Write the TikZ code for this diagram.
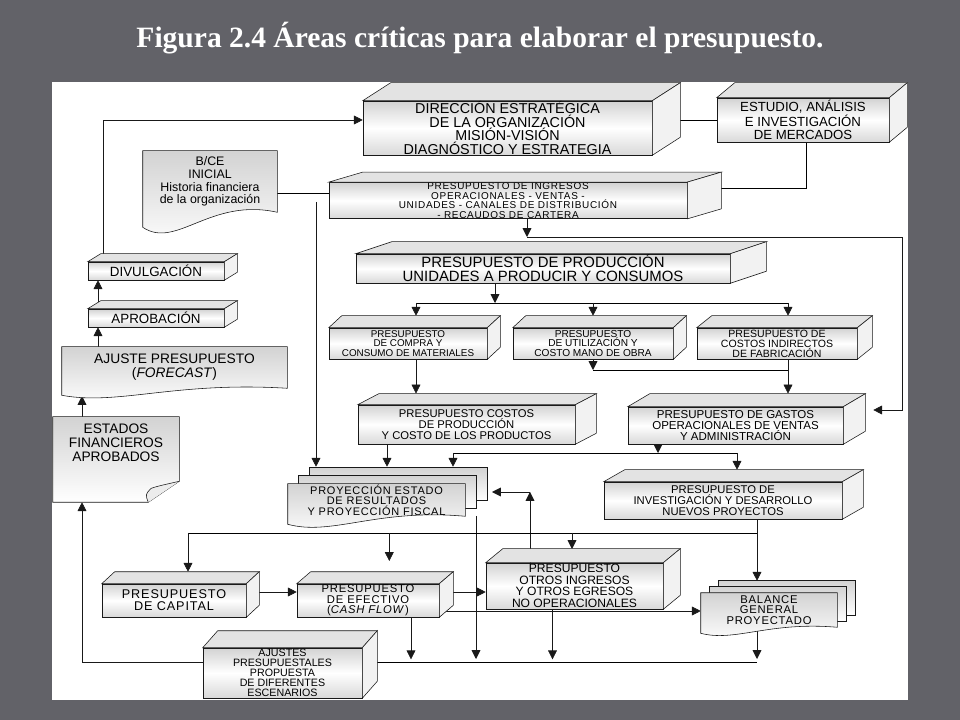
\documentclass[tikz,border=0pt]{standalone}
\usepackage{fontspec}
\setmainfont{Liberation Sans}
\newfontfamily\titlefont{Liberation Serif}
\newfontfamily\widefont[LetterSpace=7]{Liberation Sans}
\usetikzlibrary{arrows.meta}
\usetikzlibrary{calc}
\usetikzlibrary{positioning}
\pgfdeclarelayer{back}
\pgfdeclarelayer{conn}
\pgfdeclarelayer{docs}
\pgfsetlayers{back,conn,docs,main}
\definecolor{bgdark}{RGB}{98,98,104}
\tikzset{box/.style={draw=gray!20!black,inner sep=0pt,align=center,
    top color=gray!35,bottom color=gray!30,middle color=white}}
\tikzset{doc/.style={inner sep=0pt,align=center}}
\tikzset{sz/.style 2 args={minimum width=#1*0.025cm,minimum height=#2*0.025cm}}
\tikzset{fnt/.style 2 args={font=\fontsize{#1}{#2}\selectfont}}
\tikzset{docfill/.style={draw=gray!20!black,top color=gray!35,bottom color=white}}
\tikzset{arrow/.style={-{Triangle[length=2.2mm,width=2.2mm]},draw=gray!20!black}}
\newcommand{\cubefaces}[3]{
    \draw[draw=gray!20!black,fill=gray!22] (#1.north west) -- ++(#2,-#3)
        -- ($(#1.north east)+(#2,-#3)$) -- (#1.north east) -- cycle;
    \draw[draw=gray!20!black,fill=gray!10] (#1.north east) -- ++(#2,-#3)
        -- ($(#1.south east)+(#2,-#3)$) -- (#1.south east) -- cycle;
}
\newcommand{\docshape}[2]{
    \draw[docfill] (#1.north west) -- (#1.north east) -- (#1.south east)
        .. controls ($(#1.south)+(0,-#2)$) and ($(#1.south)!0.5!(#1.south west)+(0,2.5*#2)$)
        .. ($(#1.south west)+(0,#2)$) -- cycle;
}
\newcommand{\sheets}[3]{
    \draw[docfill] ($(#1.north west)+(2*#2,-2*#3)$) rectangle ($(#1.south east)+(2*#2,-2*#3)$);
    \draw[docfill] ($(#1.north west)+(#2,-#3)$) rectangle ($(#1.south east)+(#2,-#3)$);
}
\begin{document}
\begin{tikzpicture}[x=0.025cm,y=-0.025cm]
        \useasboundingbox (0,0) rectangle (960,720);
        \begin{pgfonlayer}{back}
            \fill[bgdark] (0,0) rectangle (960,720);
            \fill[white] (52,82) rectangle (908,700);
        \end{pgfonlayer}
        \node[text=white,font=\titlefont\bfseries\fontsize{21}{24}\selectfont] (title) at (480,38)
            {Figura 2.4 Áreas críticas para elaborar el presupuesto.};

        % boxes
        \node[box,sz={289}{54},fnt={10.2}{9.6}] (dir) at (507.5,128)
            {DIRECCIÓN ESTRATÉGICA\\DE LA ORGANIZACIÓN\\MISIÓN-VISIÓN\\DIAGNÓSTICO Y ESTRATEGIA};
        \node[box,sz={172}{44},fnt={9.4}{9.2}] (est) at (803,120)
            {ESTUDIO, ANÁLISIS\\E INVESTIGACIÓN\\DE MERCADOS};
        \node[box,sz={358}{35},font=\widefont\fontsize{7.1}{6.9}\selectfont] (ing) at (508,200.5)
            {PRESUPUESTO DE INGRESOS\\OPERACIONALES - VENTAS -\\UNIDADES - CANALES DE DISTRIBUCIÓN\\- RECAUDOS DE CARTERA};
        \node[doc,sz={134}{61},fnt={8.8}{9}] (bce) at (210,181.5)
            {B/CE\\INICIAL\\Historia financiera\\de la organización};
        \node[box,sz={374}{29},fnt={10.6}{10}] (prod) at (543,268.5)
            {PRESUPUESTO DE PRODUCCIÓN\\UNIDADES A PRODUCIR Y CONSUMOS};
        \node[box,sz={158}{31},fnt={7}{6.8}] (compra) at (408,343.5)
            {PRESUPUESTO\\DE COMPRA Y\\CONSUMO DE MATERIALES};
        \node[box,sz={160}{31},fnt={7.2}{6.9}] (util) at (593,343.5)
            {PRESUPUESTO\\DE UTILIZACIÓN Y\\COSTO MANO DE OBRA};
        \node[box,sz={160}{31},fnt={7.5}{7.1}] (mano) at (777,343.5)
            {PRESUPUESTO DE\\COSTOS INDIRECTOS\\DE FABRICACIÓN};
        \node[box,sz={217}{39},fnt={8}{7.6}] (costos) at (466.5,424.5)
            {PRESUPUESTO COSTOS\\DE PRODUCCIÓN\\Y COSTO DE LOS PRODUCTOS};
        \node[box,sz={215}{37},fnt={8.2}{7.8}] (gastos) at (735.5,425.5)
            {PRESUPUESTO DE GASTOS\\OPERACIONALES DE VENTAS\\Y ADMINISTRACIÓN};
        \node[doc,sz={177}{32},font=\widefont\fontsize{7.8}{7.4}\selectfont] (proy) at (376.5,500)
            {PROYECCIÓN ESTADO\\DE RESULTADOS\\Y PROYECCIÓN FISCAL};
        \node[box,sz={238}{37},fnt={8}{7.6}] (inv) at (723,500.5)
            {PRESUPUESTO DE\\INVESTIGACIÓN Y DESARROLLO\\NUEVOS PROYECTOS};
        \node[box,sz={144}{33},font=\widefont\fontsize{9}{8.6}\selectfont] (capital) at (174,600.5)
            {PRESUPUESTO\\DE CAPITAL};
        \node[box,sz={142}{33},font=\widefont\fontsize{8}{7.6}\selectfont] (efectivo) at (368,600.5)
            {PRESUPUESTO\\DE EFECTIVO\\(\textit{CASH FLOW})};
        \node[box,sz={177}{46},fnt={8.6}{8.2}] (otros) at (574.5,586)
            {PRESUPUESTO\\OTROS INGRESOS\\Y OTROS EGRESOS\\NO OPERACIONALES};
        \node[doc,sz={136}{34},font=\widefont\fontsize{8}{7.6}\selectfont] (balance) at (769,610)
            {BALANCE\\GENERAL\\PROYECTADO};
        \node[box,sz={159}{50},fnt={7.6}{7.2}] (ajustes) at (282.5,673)
            {AJUSTES\\PRESUPUESTALES\\PROPUESTA\\DE DIFERENTES\\ESCENARIOS};
        \node[doc,sz={126}{85},fnt={9.8}{10}] (estados) at (116,459.5)
            {ESTADOS\\FINANCIEROS\\APROBADOS\\[14pt]};
        \node[doc,sz={225}{41},fnt={9.8}{10}] (ajp) at (174.5,367.5)
            {AJUSTE PRESUPUESTO\\(\textit{FORECAST})};
        \node[box,sz={136}{18},fnt={9.5}{9}] (aprob) at (156,318) {APROBACIÓN};
        \node[box,sz={136}{18},fnt={9.5}{9}] (divul) at (156,271) {DIVULGACIÓN};

        \cubefaces{dir}{28}{18}
        \cubefaces{est}{18}{15}
        \cubefaces{ing}{34}{10}
        \cubefaces{prod}{36}{12}
        \cubefaces{compra}{13}{12}
        \cubefaces{util}{13}{12}
        \cubefaces{mano}{15}{12}
        \cubefaces{costos}{21}{11}
        \cubefaces{gastos}{22}{13}
        \cubefaces{inv}{21}{12}
        \cubefaces{capital}{13}{12}
        \cubefaces{efectivo}{14}{12}
        \cubefaces{otros}{17}{14}
        \cubefaces{ajustes}{15}{17}
        \cubefaces{aprob}{13}{8}
        \cubefaces{divul}{13}{8}

        \begin{pgfonlayer}{docs}
            \docshape{bce}{15}
            \docshape{ajp}{7}
            \sheets{proy}{11}{8}
            \docshape{proy}{8}
            \sheets{balance}{9}{6}
            \docshape{balance}{6}
            \draw[docfill] (estados.north west) -- (estados.north east)
                -- ($(estados.south east)+(0,-21)$) -- ($(estados.south east)+(-31,0)$)
                -- (estados.south west) -- cycle;
            \draw[draw=gray!20!black,fill=gray!15] ($(estados.south east)+(0,-21)$)
                .. controls ($(estados.south east)+(-22,-16)$) .. ($(estados.south east)+(-28,-14)$)
                .. controls ($(estados.south east)+(-34,-8)$) .. ($(estados.south east)+(-31,0)$);
        \end{pgfonlayer}

        % connectors
        \coordinate (proytop) at ($(proy.north)+(0,-17)$);
        \coordinate (e1) at (806,188);
        \coordinate (b1) at (277,193);
        \coordinate (v1) at (316,202);
        \coordinate (r1) at (527,237);
        \coordinate (r2) at (902,410);
        \coordinate (p1) at (495,303);
        \coordinate (p2) at (416,303);
        \coordinate (p3) at (788,303);
        \coordinate (m1) at (593,370);
        \coordinate (k1) at (387,444);
        \coordinate (g1) at (658,453);
        \coordinate (g2) at (453,453);
        \coordinate (g3) at (737,453);
        \coordinate (o1) at (530,492);
        \coordinate (o2) at (492,492);
        \coordinate (y1) at (476,516);
        \coordinate (h1) at (188,533);
        \coordinate (h2) at (757,533);
        \coordinate (q1) at (0,592);
        \coordinate (q2) at (0,611);
        \coordinate (z1) at (0,659);
        \coordinate (l1) at (82,396);
        \coordinate (a1) at (98,0);
        \begin{pgfonlayer}{conn}
            \draw[arrow] (divul.north) ++(-53,0) |- (dir.west|-est.west);
            \draw (dir.east|-est.west) -- (est.west);
            \draw (est.south-|e1) -- (e1) -- (e1-|ing.east);
            \draw (b1) -- (b1-|ing.west);
            \draw[arrow] (v1) -- (v1|-proytop);
            \draw[arrow] (ing.south-|r1) -- (r1);
            \draw[arrow,shorten >=0.75cm] (r1) -| (r2) -- (r2-|gastos.east);
            \draw[arrow] (prod.south-|p1) -- (p1);
            \draw (p2) -- (p3);
            \draw[arrow,shorten >=0.3cm] (p2) -- (p2|-compra.north);
            \draw[arrow,shorten >=0.3cm] (p2-|util.north) -- (util.north);
            \draw[arrow,shorten >=0.3cm] (p3) -- (p3|-mano.north);
            \draw[arrow,shorten >=0.28cm] (p2|-compra.south) -- (p2|-costos.north);
            \draw[arrow] (util.south) -- (m1);
            \draw (m1) -- (m1-|p3);
            \draw[arrow,shorten >=0.33cm] (p3|-mano.south) -- (p3|-gastos.north);
            \draw[arrow] (k1) -- (k1|-proytop);
            \draw[arrow] (gastos.south-|g1) -- (g1);
            \draw (g2) -- (g3);
            \draw[arrow] (g2) -- (g2|-proytop);
            \draw[arrow,shorten >=0.3cm] (g3) -- (g3|-inv.north);
            \draw[arrow] (o1|-otros.north) -- (o1);
            \draw[arrow] (o1) -- (o2);
            \draw[arrow] (y1) -- (y1|-z1);
            \draw (h1) -- (h2);
            \draw[arrow,shorten >=0.3cm] (h1) -- (h1|-capital.north);
            \draw[arrow,shorten >=0.3cm] (h1-|efectivo.east) ++(-50,0) -- ++(0,40);
            \draw[arrow,shorten >=0.35cm] (h1-|o1) ++(42,0) -- ++(0,30);
            \draw[arrow,shorten >=0.3cm] (inv.south-|h2) -- (h2|-balance.north);
            \draw[arrow] (capital.east|-q1) -- (efectivo.west|-q1);
            \draw[arrow] (efectivo.east|-q1) -- (otros.west|-q1);
            \draw[arrow] (efectivo.east|-q2) -- (balance.west|-q2);
            \draw[arrow] (efectivo.south) ++(43,0) -- ++(0,42);
            \draw[arrow] (otros.south) ++(-22,0) -- ++(0,50);
            \draw[arrow] (balance.south-|h2) -- (h2|-z1);
            \draw ($(ajustes.east|-z1)+(0,3)$) -- ($(h2|-z1)+(0,3)$);
            \draw[arrow] ($(ajustes.west|-z1)+(0,3)$) -| (l1|-estados.south);
            \draw[arrow] (l1|-estados.north) -- (l1);
            \draw[arrow] (a1|-ajp.north) -- (a1|-aprob.south);
            \draw[arrow] (a1|-aprob.north) -- (a1|-divul.south);
        \end{pgfonlayer}
    \end{tikzpicture}
\end{document}
